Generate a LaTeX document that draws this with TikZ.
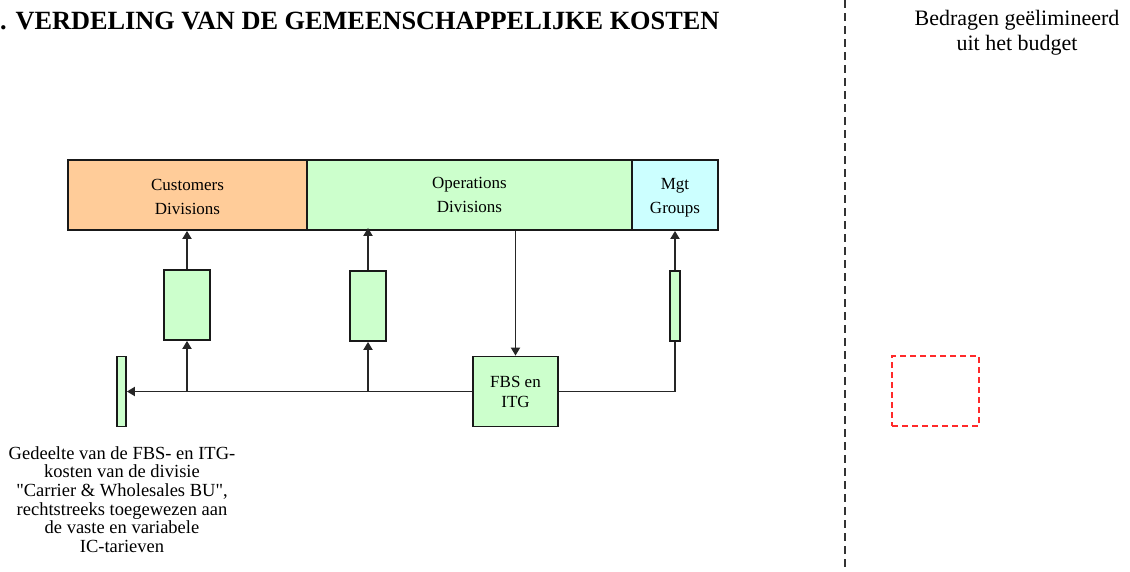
\documentclass[tikz,border=0pt]{standalone}
\usepackage{fontspec}
\setmainfont{Liberation Serif}
\usetikzlibrary{arrows.meta}
\definecolor{custorange}{HTML}{FFCC99}
\definecolor{opsgreen}{HTML}{CCFFCC}
\definecolor{mgtcyan}{HTML}{CCFFFF}
\definecolor{darkline}{HTML}{333333}
\definecolor{redline}{HTML}{FF2A2A}
\tikzset{
  box/.style={draw=black!90, line width=1.8pt, inner sep=0pt, minimum height=70pt},
  grnbox/.style={box, fill=opsgreen},
  lbl/.style={align=center, font=\fontsize{17}{24}\selectfont},
  conn/.style={line width=1.8pt, draw=black!85},
  arr/.style={conn, -{Triangle[width=9pt,length=8pt]}},
}
\begin{document}
\begin{tikzpicture}[x=1pt,y=-1pt]
\useasboundingbox (0,0) rectangle (1130,571);
% title
\node[anchor=base west, inner sep=0pt, font=\fontsize{26.3}{30}\selectfont\bfseries] (title) at (0,29) {. VERDELING VAN DE GEMEENSCHAPPELIJKE KOSTEN};
% top boxes
\node[box, fill=custorange, minimum width=239pt] (cust) at (187.5,195) {};
\node[box, fill=opsgreen, minimum width=325pt] (ops) at (469.5,195) {};
\node[box, fill=mgtcyan, minimum width=86pt] (mgt) at (675,195) {};
\node[lbl] (custt) at (187.5,197) {Customers\\Divisions};
\node[lbl] (opst) at (469.5,195) {Operations\\Divisions};
\node[lbl] (mgtt) at (675,198) {Mgt\\Groups};
% intermediate boxes
\node[grnbox, minimum width=46pt] (b1) at (187,305) {};
\node[grnbox, minimum width=36pt] (b2) at (368,306) {};
\node[grnbox, minimum width=10pt] (b3) at (675,306) {};
\node[grnbox, minimum width=85pt, align=center, font=\fontsize{17}{20}\selectfont] (fbs) at (515.5,391.5) {FBS en\\ITG};
\node[grnbox, minimum width=9pt] (bar) at (121.5,391.5) {};
% junctions
\coordinate (j1) at (187,391.5);
\coordinate (j2) at (368,391.5);
% connectors
\draw[arr] (fbs.west) -- (bar.east);
\draw[arr] (j1) -- (b1.south);
\draw[arr] (b1.north) -- (b1 |- cust.south);
\draw[arr] (j2) -- (b2.south);
\draw[arr] (b2.north) -- ([yshift=3pt]b2 |- ops.south);
\draw[arr] (fbs |- ops.south) -- (fbs.north);
\draw[conn] (fbs.east) -| (b3.south);
\draw[arr] (b3.north) -- (b3 |- mgt.south);
% caption
\node[anchor=north, align=center, inner sep=0pt, font=\fontsize{18.5}{18.7}\selectfont] (cap) at (122,446) {Gedeelte van de FBS- en ITG-\\kosten van de divisie\\\textquotedbl Carrier \& Wholesales BU\textquotedbl,\\rechtstreeks toegewezen aan\\de vaste en variabele\\IC-tarieven};
% right part
\coordinate (dtop) at (845,0);
\coordinate (dbot) at (845,571);
\draw[darkline, line width=1.8pt, dash pattern=on 8pt off 5pt] (dtop) -- (dbot);
\node[align=center, font=\fontsize{22}{25}\selectfont] (elim) at (1017,33) {Bedragen geëlimineerd\\uit het budget};
\node[draw=redline, line width=1.6pt, dash pattern=on 6pt off 4pt, minimum width=87pt, minimum height=70pt, inner sep=0pt] (red) at (935.5,391) {};
\end{tikzpicture}
\end{document}
